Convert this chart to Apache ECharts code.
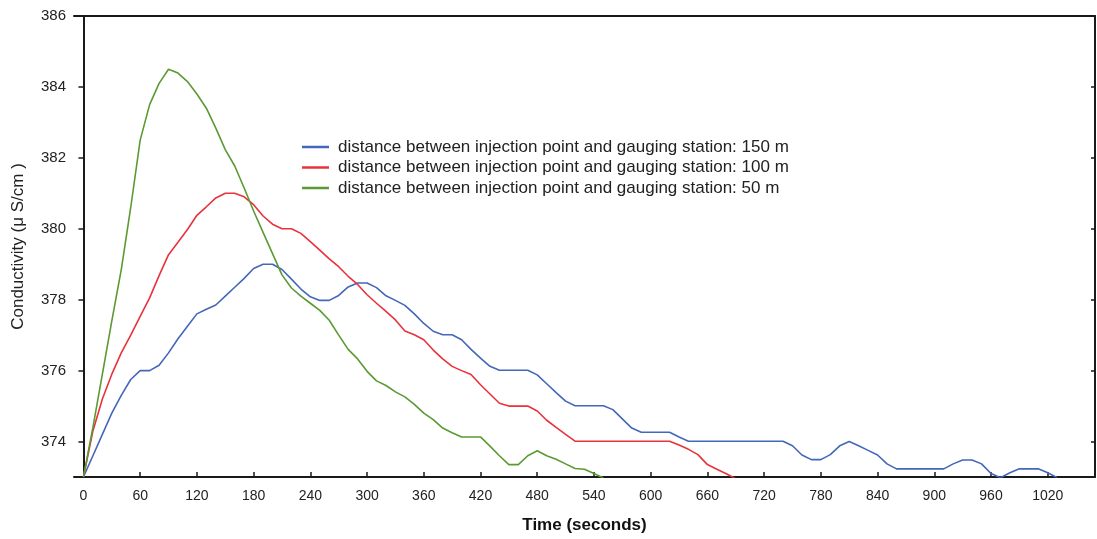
<!DOCTYPE html>
<html><head><meta charset="utf-8">
<script src="https://cdn.jsdelivr.net/npm/echarts@6/dist/echarts.min.js"></script>
<style>html,body{margin:0;padding:0;background:#fff}#c{width:1097px;height:539px}</style>
</head><body><div id="c"></div>
<script>
const xTickLabels = [0,60,120,180,240,300,360,420,480,540,600,660,720,780,840,900,960,1020];
const yTickLabels = [374,376,378,380,382,384,386];
const seriesNames = [
  'distance between injection point and gauging station: 150 m',
  'distance between injection point and gauging station: 100 m',
  'distance between injection point and gauging station: 50 m'
];
const time150 = [0,10,20,30,40,50,60,70,80,90,100,110,120,130,140,150,160,170,180,190,200,210,220,230,240,250,260,270,280,290,300,310,320,330,340,350,360,370,380,390,400,410,420,430,440,450,460,470,480,490,500,510,520,530,540,550,560,570,580,590,600,610,620,630,640,650,660,670,680,690,700,710,720,730,740,750,760,770,780,790,800,810,820,830,840,850,860,870,880,890,900,910,920,930,940,950,960,970,980,990,1000,1010,1020,1030];
const cond150 = [373.0,373.6,374.2,374.8,375.3,375.75,376.0,376.0,376.15,376.5,376.9,377.25,377.6,377.73,377.85,378.1,378.35,378.6,378.88,379.0,379.0,378.85,378.58,378.3,378.08,377.98,377.98,378.12,378.36,378.47,378.47,378.34,378.11,377.98,377.84,377.6,377.33,377.11,377.01,377.01,376.87,376.6,376.35,376.12,376.01,376.01,376.01,376.01,375.88,375.63,375.38,375.14,375.01,375.01,375.01,375.01,374.9,374.64,374.38,374.26,374.26,374.26,374.26,374.13,374.01,374.01,374.01,374.01,374.01,374.01,374.01,374.01,374.01,374.01,374.01,373.88,373.62,373.49,373.49,373.63,373.88,374.0,373.88,373.75,373.62,373.37,373.23,373.23,373.23,373.23,373.23,373.23,373.37,373.48,373.48,373.37,373.1,372.98,373.12,373.23,373.23,373.23,373.12,372.98];
const time100 = [0,10,20,30,40,50,60,70,80,90,100,110,120,130,140,150,160,170,180,190,200,210,220,230,240,250,260,270,280,290,300,310,320,330,340,350,360,370,380,390,400,410,420,430,440,450,460,470,480,490,500,510,520,530,540,550,560,570,580,590,600,610,620,630,640,650,660,670,680,690];
const cond100 = [373.0,374.3,375.2,375.9,376.5,377.0,377.53,378.05,378.68,379.27,379.62,379.98,380.38,380.62,380.87,381.0,381.0,380.9,380.68,380.36,380.13,380.0,380.0,379.87,379.64,379.4,379.15,378.93,378.66,378.43,378.14,377.9,377.67,377.43,377.12,377.01,376.87,376.58,376.33,376.12,376.0,375.89,375.6,375.34,375.08,375.0,375.0,375.0,374.86,374.6,374.4,374.2,374.01,374.01,374.01,374.01,374.01,374.01,374.01,374.01,374.01,374.01,374.01,373.9,373.78,373.63,373.35,373.22,373.09,372.95];
const time50 = [0,10,20,30,40,50,60,70,80,90,100,110,120,130,140,150,160,170,180,190,200,210,220,230,240,250,260,270,280,290,300,310,320,330,340,350,360,370,380,390,400,410,420,430,440,450,460,470,480,490,500,510,520,530,540,550];
const cond50 = [373.0,374.4,375.9,377.4,378.85,380.6,382.5,383.5,384.1,384.5,384.39,384.15,383.8,383.4,382.84,382.23,381.77,381.15,380.5,379.9,379.3,378.7,378.33,378.1,377.9,377.7,377.42,377.0,376.6,376.33,375.98,375.71,375.58,375.4,375.26,375.05,374.8,374.62,374.38,374.25,374.13,374.13,374.13,373.87,373.6,373.35,373.35,373.6,373.74,373.6,373.5,373.37,373.24,373.22,373.1,372.97];

const colors = ['#4467b9', '#e8323c', '#5b9a32'];
const pair = (t, v) => t.map((x, i) => [x, v[i]]);
const axisCol = '#1a1a1a';
const FF = 'Liberation Sans, Arial, sans-serif';
const chart = echarts.init(document.getElementById('c'), null, {renderer: 'canvas'});
chart.setOption({
  animation: false,
  backgroundColor: '#fff',
  grid: {left: 74, right: 2, top: 16, bottom: 62, containLabel: false},
  legend: {
    orient: 'vertical', left: 297, top: 133.5,
    itemWidth: 27, itemHeight: 2.5, itemGap: 3.5, icon: 'rect',
    data: seriesNames,
    textStyle: {color: '#222', fontFamily: FF, fontSize: 17, lineHeight: 17, padding: [0,0,0,4]}
  },
  xAxis: [{
    type: 'value', min: -10, max: 1070, position: 'bottom',
    name: 'Time (seconds)', nameLocation: 'middle', nameGap: 40,
    nameTextStyle: {color: '#111', fontFamily: FF, fontSize: 17, fontWeight: 'bold'},
    axisLine: {show: true, lineStyle: {color: axisCol, width: 2}},
    axisTick: {show: true, inside: true, length: 5, customValues: xTickLabels, lineStyle: {color: axisCol, width: 1.5}},
    axisLabel: {margin: 12, customValues: xTickLabels, color: '#222', fontFamily: FF, fontSize: 14, formatter: v => String(v)},
    splitLine: {show: false}
  }, {
    type: 'value', min: -10, max: 1070, position: 'top',
    axisLine: {show: true, onZero: false, lineStyle: {color: axisCol, width: 2}},
    axisTick: {show: false}, axisLabel: {show: false}, splitLine: {show: false}
  }],
  yAxis: [{
    type: 'value', min: 373, max: 386, position: 'left',
    name: 'Conductivity (μ S/cm )', nameLocation: 'middle', nameGap: 47, nameRotate: 90,
    nameTextStyle: {color: '#222', fontFamily: FF, fontSize: 17},
    axisLine: {show: true, lineStyle: {color: axisCol, width: 2}},
    axisTick: {show: true, inside: false, length: 5, customValues: yTickLabels, lineStyle: {color: axisCol, width: 1.5}},
    axisLabel: {margin: 8, customValues: yTickLabels, color: '#222', fontFamily: FF, fontSize: 15, formatter: v => String(v)},
    splitLine: {show: false}
  }, {
    type: 'value', min: 373, max: 386, position: 'right',
    axisLine: {show: true, onZero: false, lineStyle: {color: axisCol, width: 2}},
    axisTick: {show: true, inside: true, length: 4, customValues: yTickLabels, lineStyle: {color: axisCol, width: 1.5}},
    axisLabel: {show: false}, splitLine: {show: false}
  }],
  series: [
    {name: seriesNames[0], type: 'line', data: pair(time150, cond150), showSymbol: false, symbol: 'none', clip: true,
     lineStyle: {color: colors[0], width: 1.6}, itemStyle: {color: colors[0]}},
    {name: seriesNames[1], type: 'line', data: pair(time100, cond100), showSymbol: false, symbol: 'none', clip: true,
     lineStyle: {color: colors[1], width: 1.6}, itemStyle: {color: colors[1]}},
    {name: seriesNames[2], type: 'line', data: pair(time50, cond50), showSymbol: false, symbol: 'none', clip: true,
     lineStyle: {color: colors[2], width: 1.6}, itemStyle: {color: colors[2]}}
  ]
});
</script></body></html>
